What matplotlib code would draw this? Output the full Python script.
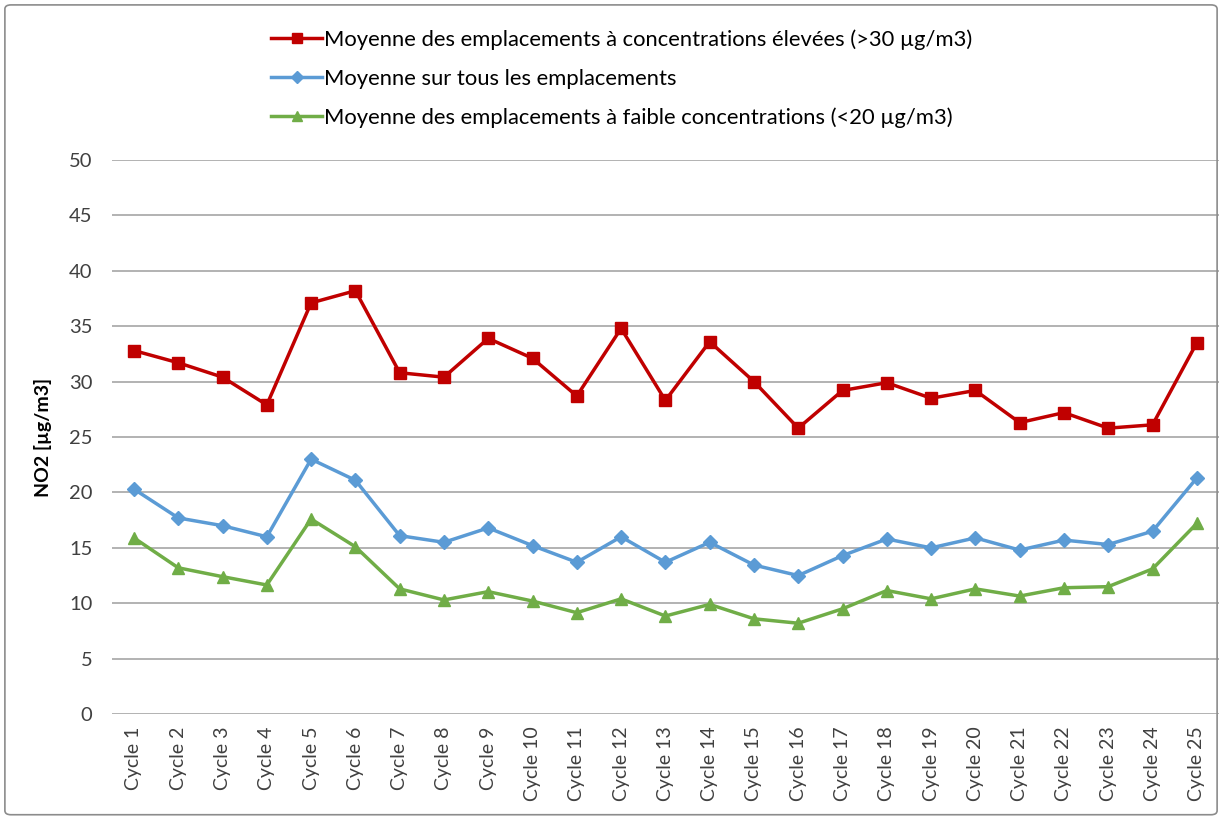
import matplotlib
matplotlib.use('Agg')
import matplotlib.pyplot as plt
from matplotlib.patches import FancyBboxPatch
import numpy as np

plt.rcParams['font.family'] = ['Lato', 'DejaVu Sans']

# Data
cycles = [f'Cycle {i}' for i in range(1, 26)]
high_sites = [32.8, 31.7, 30.4, 27.9, 37.1, 38.2, 30.8, 30.4, 33.9, 32.1,
              28.7, 34.8, 28.3, 33.6, 30.0, 25.8, 29.2, 29.9, 28.5, 29.2,
              26.3, 27.2, 25.8, 26.1, 33.5]
all_sites = [20.3, 17.7, 17.0, 16.0, 23.0, 21.1, 16.1, 15.5, 16.8, 15.2,
             13.7, 16.0, 13.7, 15.5, 13.45, 12.5, 14.3, 15.8, 15.0, 15.9,
             14.8, 15.7, 15.3, 16.5, 21.3]
low_sites = [15.9, 13.2, 12.4, 11.65, 17.6, 15.1, 11.3, 10.3, 11.05, 10.2,
             9.15, 10.4, 8.85, 9.9, 8.6, 8.2, 9.5, 11.15, 10.4, 11.3,
             10.65, 11.4, 11.5, 13.1, 17.2]

labels = ['Moyenne des emplacements à concentrations élevées (>30 µg/m3)',
          'Moyenne sur tous les emplacements',
          'Moyenne des emplacements à faible concentrations (<20 µg/m3)']

fig = plt.figure(figsize=(12.22, 8.18), dpi=100)
ax = fig.add_axes([0.0915, 0.127, 0.906, 0.6775])

x = np.arange(len(cycles))
h1, = ax.plot(x, high_sites, '-s', color='#C00000', lw=2.5, ms=9, label=labels[0])
h2, = ax.plot(x, all_sites, '-D', color='#5B9BD5', lw=2.5, ms=7, label=labels[1])
h3, = ax.plot(x, low_sites, '-^', color='#70AD47', lw=2.5, ms=9, label=labels[2])

ax.set_xlim(-0.5, len(cycles) - 0.5)
ax.set_ylim(0, 50)
ax.set_yticks(np.arange(0, 51, 5))
ax.set_xticks(x)
ax.set_xticklabels(cycles, rotation=90, fontsize=14, color='#404040')
ax.tick_params(axis='y', labelsize=14.5, colors='#404040', length=0, pad=14)
ax.tick_params(axis='x', length=0, pad=9)
ax.grid(axis='y', color='#A6A6A6', lw=1.2)
ax.set_axisbelow(True)
for s in ax.spines.values():
    s.set_visible(False)
ax.set_ylabel('NO2 [µg/m3]', fontsize=14, fontweight='bold', labelpad=12)

fig.legend(handles=[h1, h2, h3], loc='upper left', bbox_to_anchor=(0.206, 0.988),
           frameon=False, fontsize=15.8, handlelength=2.3, handletextpad=0.1,
           labelspacing=0.85, markerscale=0.85)

border = FancyBboxPatch((0.004, 0.004), 0.992, 0.99, boxstyle='round,pad=0,rounding_size=0.005',
                        transform=fig.transFigure, fill=False, ec='#8C8C8C', lw=1.2)
fig.patches.append(border)

fig.savefig('out.png', dpi=100)
